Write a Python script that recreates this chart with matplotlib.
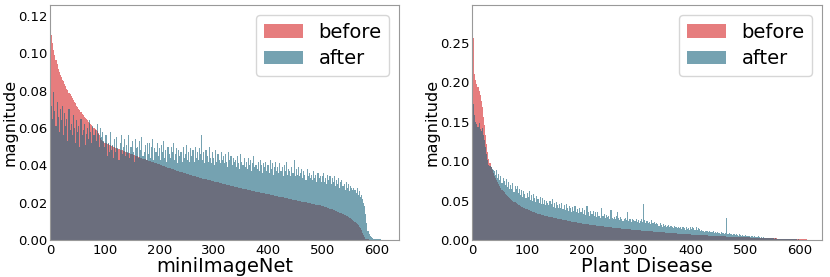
import numpy as np
import matplotlib
matplotlib.use("Agg")
import matplotlib.pyplot as plt

# feature magnitudes in units of 1e-4, one value per 2 feature dims (640-d)
mini_before = [
    1170, 1100, 1052, 1018, 990, 962, 941, 918, 902, 884,
    871, 858, 849, 836, 824, 811, 801, 789, 779, 770,
    760, 751, 739, 731, 719, 711, 703, 694, 686, 677,
    670, 661, 655, 647, 640, 633, 626, 619, 613, 606,
    600, 594, 589, 581, 574, 563, 546, 536, 529, 524,
    520, 517, 515, 512, 509, 507, 504, 502, 499, 497,
    494, 492, 489, 487, 484, 482, 480, 477, 475, 473,
    471, 468, 466, 464, 462, 459, 457, 455, 452, 450,
    448, 446, 443, 441, 439, 436, 434, 432, 430, 427,
    425, 423, 421, 419, 417, 415, 413, 411, 409, 407,
    405, 403, 401, 398, 396, 394, 392, 390, 388, 386,
    384, 382, 380, 378, 376, 374, 372, 370, 368, 366,
    364, 362, 360, 358, 356, 354, 353, 351, 349, 347,
    346, 344, 342, 341, 339, 337, 336, 334, 332, 331,
    329, 328, 326, 325, 323, 322, 320, 319, 317, 316,
    314, 313, 311, 310, 308, 307, 305, 304, 302, 301,
    299, 298, 296, 295, 293, 292, 290, 289, 287, 286,
    285, 283, 282, 280, 279, 278, 276, 275, 273, 272,
    271, 269, 268, 267, 265, 264, 263, 261, 260, 259,
    258, 256, 255, 254, 252, 251, 250, 249, 247, 246,
    245, 244, 242, 241, 240, 239, 237, 236, 235, 234,
    232, 231, 230, 229, 228, 226, 225, 224, 223, 221,
    220, 219, 218, 216, 215, 214, 213, 211, 210, 209,
    208, 206, 205, 204, 202, 201, 200, 198, 197, 196,
    195, 194, 193, 191, 190, 189, 188, 186, 185, 183,
    182, 180, 178, 176, 174, 172, 170, 168, 166, 164,
    162, 160, 157, 155, 152, 150, 147, 145, 142, 139,
    136, 133, 130, 127, 124, 120, 116, 112, 108, 103,
    98, 92, 86, 79, 71, 62, 52, 40, 27, 15,
    8, 5, 3, 2, 2, 1, 1, 1, 1, 1,
    1, 1, 1, 1, 1, 1, 1, 0, 0, 0,
    0, 0, 0, 0, 0, 0, 0, 0, 0, 0,
]
mini_after = [
    780, 720, 650, 790, 690, 610, 740, 660, 580, 700,
    640, 720, 560, 680, 610, 650, 530, 700, 590, 620,
    560, 670, 600, 520, 640, 580, 610, 500, 650, 560,
    590, 620, 510, 570, 600, 540, 640, 580, 520, 610,
    560, 590, 530, 620, 570, 500, 600, 550, 580, 530,
    500, 560, 450, 520, 470, 580, 480, 510, 440, 540,
    470, 550, 490, 430, 520, 560, 460, 500, 540, 450,
    510, 470, 560, 440, 500, 530, 470, 420, 540, 490,
    500, 440, 530, 480, 550, 450, 470, 510, 430, 520,
    460, 520, 440, 500, 540, 430, 490, 470, 520, 450,
    490, 430, 510, 470, 530, 440, 480, 420, 500, 460,
    440, 500, 470, 520, 430, 460, 490, 410, 480, 450,
    470, 420, 500, 440, 460, 510, 430, 470, 420, 490,
    450, 480, 420, 500, 440, 470, 430, 490, 460, 560,
    430, 470, 410, 480, 450, 420, 500, 440, 410, 470,
    440, 400, 480, 420, 460, 430, 410, 470, 430, 450,
    410, 460, 420, 390, 470, 430, 450, 400, 440, 420,
    430, 390, 450, 410, 380, 460, 420, 400, 440, 390,
    420, 380, 440, 400, 430, 370, 410, 450, 390, 400,
    380, 420, 370, 430, 400, 360, 410, 390, 420, 370,
    400, 360, 430, 380, 410, 350, 390, 420, 370, 390,
    360, 410, 370, 390, 340, 400, 370, 420, 350, 380,
    370, 340, 390, 360, 430, 340, 380, 350, 390, 340,
    360, 380, 330, 370, 350, 320, 380, 340, 360, 330,
    350, 320, 370, 330, 350, 310, 360, 330, 340, 310,
    340, 360, 310, 330, 300, 350, 320, 340, 300, 330,
    310, 340, 290, 320, 300, 330, 280, 310, 320, 290,
    300, 270, 310, 280, 300, 260, 290, 280, 270, 280,
    270, 250, 280, 240, 260, 230, 240, 220, 200, 180,
    140, 90, 50, 30, 20, 15, 10, 8, 6, 5,
    4, 3, 3, 3, 2, 2, 2, 2, 2, 2,
    2, 2, 2, 2, 2, 2, 2, 2, 2, 2,
]
plant_before = [
    2830, 2560, 2100, 2020, 1980, 1940, 1890, 1830, 1760, 1680,
    1560, 1450, 1330, 1210, 1110, 1030, 970, 920, 880, 845,
    815, 785, 755, 728, 703, 680, 658, 638, 620, 603,
    588, 573, 559, 546, 533, 521, 509, 498, 487, 477,
    467, 458, 449, 440, 432, 424, 416, 409, 402, 395,
    388, 382, 376, 370, 364, 359, 354, 349, 344, 339,
    334, 330, 326, 322, 318, 314, 310, 306, 303, 300,
    296, 293, 290, 287, 284, 281, 278, 275, 272, 269,
    266, 263, 260, 257, 254, 251, 248, 245, 242, 239,
    236, 233, 230, 227, 225, 222, 219, 217, 214, 212,
    210, 208, 206, 204, 202, 200, 198, 196, 194, 192,
    190, 188, 186, 184, 182, 180, 178, 176, 175, 173,
    171, 169, 168, 166, 164, 163, 161, 159, 158, 156,
    155, 153, 152, 150, 149, 147, 146, 144, 143, 141,
    140, 138, 137, 136, 134, 133, 132, 130, 129, 128,
    126, 125, 124, 122, 121, 120, 119, 117, 116, 115,
    114, 112, 111, 110, 109, 108, 106, 105, 104, 103,
    102, 101, 99, 98, 97, 96, 95, 94, 93, 92,
    91, 90, 88, 87, 86, 85, 84, 83, 82, 81,
    80, 79, 78, 77, 76, 75, 74, 73, 72, 71,
    70, 69, 68, 67, 66, 66, 65, 64, 63, 62,
    61, 60, 60, 59, 58, 57, 56, 56, 55, 54,
    53, 53, 52, 51, 50, 50, 49, 48, 48, 47,
    46, 46, 45, 44, 44, 43, 42, 42, 41, 40,
    40, 39, 39, 38, 37, 37, 36, 36, 35, 34,
    34, 33, 33, 32, 32, 31, 30, 30, 29, 29,
    28, 28, 27, 27, 26, 26, 25, 25, 24, 24,
    23, 23, 22, 22, 21, 21, 20, 20, 19, 19,
    18, 18, 17, 17, 16, 16, 15, 15, 14, 14,
    13, 13, 12, 12, 11, 11, 10, 10, 10, 9,
    9, 8, 8, 8, 7, 7, 7, 6, 6, 6,
    5, 5, 5, 4, 4, 4, 3, 3, 3, 2,
]
plant_after = [
    1800, 1720, 1580, 1500, 1470, 1430, 1480, 1400, 1380, 1420,
    1330, 1270, 1180, 1090, 1010, 950, 940, 930, 900, 880,
    870, 820, 880, 780, 830, 760, 810, 720, 780, 750,
    700, 770, 670, 730, 650, 700, 640, 720, 610, 680,
    640, 680, 590, 650, 570, 630, 550, 620, 580, 530,
    600, 540, 620, 510, 570, 490, 580, 530, 480, 560,
    520, 470, 550, 460, 530, 450, 510, 440, 500, 470,
    440, 500, 450, 520, 420, 470, 410, 480, 440, 400,
    460, 410, 470, 390, 440, 380, 450, 410, 370, 430,
    400, 360, 420, 370, 430, 350, 390, 340, 410, 360,
    360, 400, 330, 380, 320, 430, 350, 310, 370, 330,
    330, 370, 300, 350, 290, 360, 310, 280, 400, 300,
    300, 330, 280, 320, 290, 310, 270, 380, 280, 260,
    290, 270, 300, 360, 280, 250, 290, 260, 240, 270,
    280, 250, 350, 240, 270, 260, 230, 270, 250, 240,
    260, 230, 250, 220, 240, 270, 230, 450, 250, 220,
    240, 210, 230, 200, 250, 220, 210, 230, 200, 220,
    200, 180, 210, 190, 170, 200, 180, 190, 170, 180,
    190, 160, 180, 170, 150, 180, 160, 170, 150, 160,
    150, 170, 140, 160, 150, 130, 160, 140, 150, 130,
    160, 140, 170, 150, 130, 160, 130, 150, 140, 120,
    130, 110, 120, 100, 120, 110, 95, 115, 100, 105,
    95, 110, 90, 100, 85, 105, 90, 80, 95, 85,
    90, 75, 85, 280, 80, 70, 85, 75, 65, 80,
    70, 60, 75, 65, 55, 70, 60, 50, 65, 55,
    60, 50, 55, 45, 55, 40, 50, 45, 40, 45,
    40, 35, 45, 35, 30, 40, 30, 35, 25, 30,
    28, 25, 30, 22, 25, 20, 22, 18, 20, 16,
    18, 15, 16, 13, 14, 12, 13, 11, 12, 10,
    11, 9, 10, 8, 9, 8, 7, 8, 6, 7,
    6, 5, 5, 5, 4, 4, 4, 3, 3, 3,
    3, 3, 2, 2, 2, 2, 2, 2, 2, 2,
]

dataset_names = ["miniImageNet", "Plant Disease"]
y_tops = [0.1258, 0.2975]

fig = plt.figure(figsize=(8.3, 2.77), dpi=100)
ax1 = fig.add_axes([50 / 830, 37 / 277, 349 / 830, 235 / 277])
ax2 = fig.add_axes([472 / 830, 37 / 277, 350 / 830, 235 / 277])

panels = [(ax1, mini_before, mini_after), (ax2, plant_before, plant_after)]
for (ax, before, after), name, ytop in zip(panels, dataset_names, y_tops):
    before = np.array(before) / 1e4
    after = np.array(after) / 1e4
    ax.bar(np.arange(len(before)) * 2, before, width=2.0, color="#d62728",
           alpha=0.6, linewidth=0, label="before")
    ax.bar(np.arange(len(after)) * 2, after, width=2.0, color="#19647d",
           alpha=0.6, linewidth=0, label="after")
    ax.set_xlim(-1, 641)
    ax.set_ylim(0, ytop)
    ax.set_xticks([0, 100, 200, 300, 400, 500, 600])
    ax.set_xlabel(name, fontsize=14, labelpad=0)
    ax.set_ylabel("magnitude", fontsize=11.5, labelpad=0)
    ax.tick_params(axis="x", length=0, labelsize=9.5, pad=3)
    ax.tick_params(axis="y", length=0, labelsize=9.5, pad=2)
    for s in ax.spines.values():
        s.set_color("#999999")
    ax.legend(fontsize=14, loc="upper right", labelspacing=0.4)

fig.savefig("out.png", dpi=100)
